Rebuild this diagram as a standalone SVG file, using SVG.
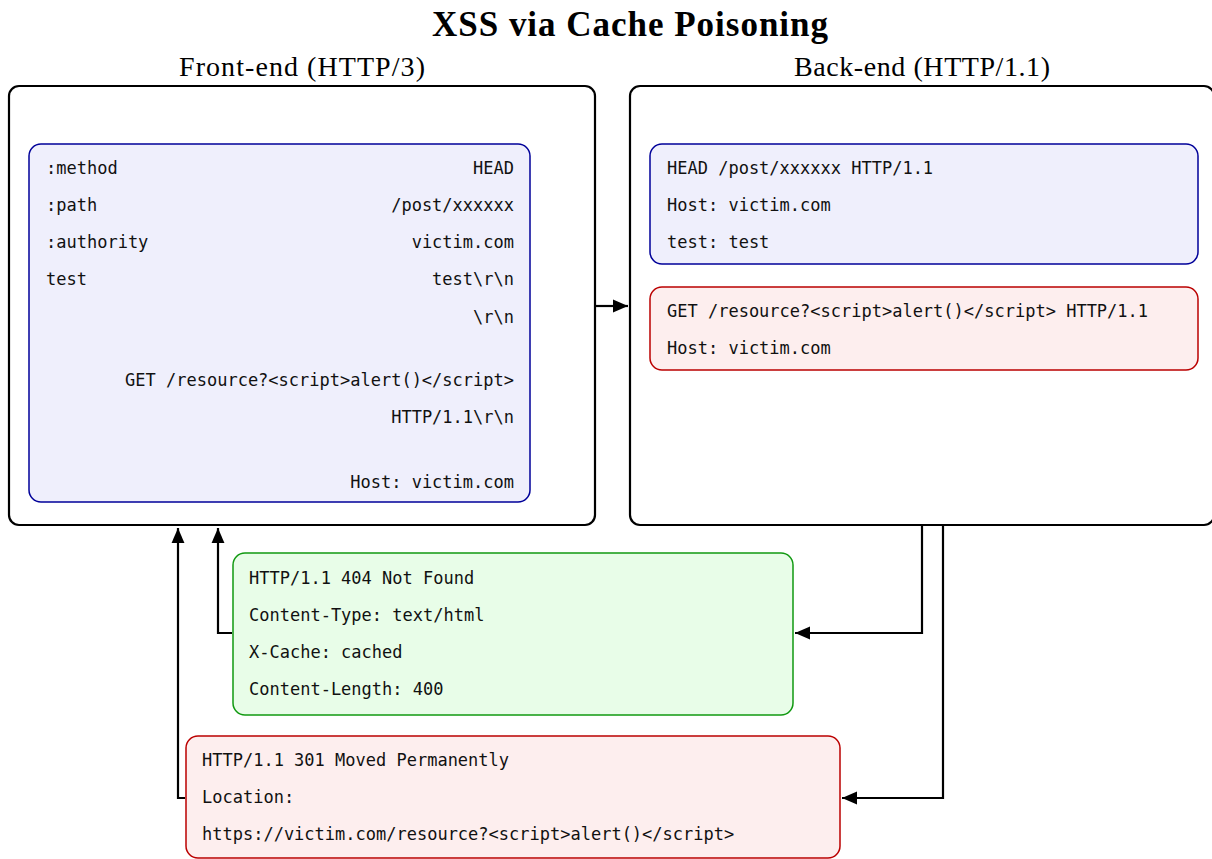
<svg xmlns="http://www.w3.org/2000/svg" width="1212" height="859" viewBox="0 0 1212 859">
  <style>
    .title { font-family: "Liberation Serif", "DejaVu Serif", serif; font-weight: bold; font-size: 35px; fill: #000; }
    .label { font-family: "Liberation Serif", "DejaVu Serif", serif; font-size: 28px; fill: #000; }
    .outer { fill: #fff; stroke: #000; stroke-width: 2.2; }
    .blue { fill: #efeffc; stroke: #000099; stroke-width: 1.5; }
    .red { fill: #fdeeee; stroke: #bb0000; stroke-width: 1.5; }
    .green { fill: #e8fde8; stroke: #119911; stroke-width: 1.5; }
    .mono { font-family: "DejaVu Sans Mono", "Liberation Mono", monospace; font-size: 17px; fill: #111; }
    .end { text-anchor: end; }
    .wire { fill: none; stroke: #000; stroke-width: 2.2; }
  </style>
  <defs>
    <!-- filled arrowhead, about 15 px long and 13 px wide at this stroke width -->
    <marker id="arrow" viewBox="0 0 14 12" refX="14" refY="6" markerWidth="7" markerHeight="6" markerUnits="strokeWidth" orient="auto">
      <path d="M0,0 L14,6 L0,12 z" fill="#000"/>
    </marker>
  </defs>

  <text class="title" x="630" y="36" text-anchor="middle" textLength="396" lengthAdjust="spacing">XSS via Cache Poisoning</text>

  <!-- front-end container -->
  <g id="frontend">
    <text class="label" x="302" y="76" text-anchor="middle" textLength="246" lengthAdjust="spacing">Front-end (HTTP/3)</text>
    <rect class="outer" x="9" y="86" width="586" height="439" rx="10"/>
  </g>

  <!-- HTTP/3 request frame -->
  <g id="h3-request">
    <rect class="blue" x="29" y="144" width="501" height="358" rx="12"/>
    <text class="mono" x="46" y="174">:method</text>
    <text class="mono end" x="514" y="174">HEAD</text>
    <text class="mono" x="46" y="211">:path</text>
    <text class="mono end" x="514" y="211">/post/xxxxxx</text>
    <text class="mono" x="46" y="248">:authority</text>
    <text class="mono end" x="514" y="248">victim.com</text>
    <text class="mono" x="46" y="285">test</text>
    <text class="mono end" x="514" y="285">test\r\n</text>
    <text class="mono end" x="514" y="323">\r\n</text>
    <text class="mono end" x="514" y="386">GET /resource?&lt;script&gt;alert()&lt;/script&gt;</text>
    <text class="mono end" x="514" y="423">HTTP/1.1\r\n</text>
    <text class="mono end" x="514" y="488">Host: victim.com</text>
  </g>

  <!-- back-end container -->
  <g id="backend">
    <text class="label" x="922" y="76" text-anchor="middle" textLength="256" lengthAdjust="spacing">Back-end (HTTP/1.1)</text>
    <rect class="outer" x="630" y="86" width="584" height="439" rx="10"/>
  </g>

  <!-- first HTTP/1.1 request -->
  <g id="head-request">
    <rect class="blue" x="650" y="144" width="548" height="120" rx="12"/>
    <text class="mono" x="667" y="174">HEAD /post/xxxxxx HTTP/1.1</text>
    <text class="mono" x="667" y="211">Host: victim.com</text>
    <text class="mono" x="667" y="248">test: test</text>
  </g>

  <!-- smuggled request -->
  <g id="smuggled-request">
    <rect class="red" x="650" y="287" width="548" height="83" rx="12"/>
    <text class="mono" x="667" y="317">GET /resource?&lt;script&gt;alert()&lt;/script&gt; HTTP/1.1</text>
    <text class="mono" x="667" y="354">Host: victim.com</text>
  </g>

  <!-- 404 response -->
  <g id="response-404">
    <rect class="green" x="233" y="553" width="560" height="162" rx="12"/>
    <text class="mono" x="249" y="584">HTTP/1.1 404 Not Found</text>
    <text class="mono" x="249" y="621">Content-Type: text/html</text>
    <text class="mono" x="249" y="658">X-Cache: cached</text>
    <text class="mono" x="249" y="695">Content-Length: 400</text>
  </g>

  <!-- 301 response -->
  <g id="response-301">
    <rect class="red" x="186" y="736" width="654" height="122" rx="12"/>
    <text class="mono" x="202" y="766">HTTP/1.1 301 Moved Permanently</text>
    <text class="mono" x="202" y="803">Location:</text>
    <text class="mono" x="202" y="840">https://victim.com/resource?&lt;script&gt;alert()&lt;/script&gt;</text>
  </g>

  <!-- connectors -->
  <g id="connectors">
    <path class="wire" d="M596,306 L628,306" marker-end="url(#arrow)"/>
    <path class="wire" d="M922,526 L922,633 L795,633" marker-end="url(#arrow)"/>
    <path class="wire" d="M943,526 L943,798 L842,798" marker-end="url(#arrow)"/>
    <path class="wire" d="M232,633 L218,633 L218,528" marker-end="url(#arrow)"/>
    <path class="wire" d="M185,798 L178,798 L178,528" marker-end="url(#arrow)"/>
  </g>
</svg>
